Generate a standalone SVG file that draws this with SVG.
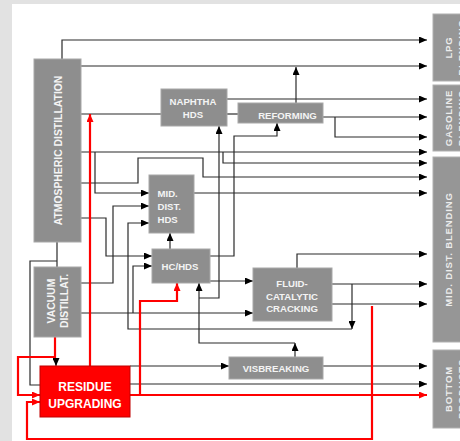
<svg xmlns="http://www.w3.org/2000/svg" width="460" height="441" viewBox="0 0 460 441">
<defs>
<style>
.bg{fill:#ffffff}
.box{fill:#8e8e8e;stroke:#a8a8a8;stroke-width:1}
.blend{fill:#969696;stroke:#b0b0b0;stroke-width:1}
.red{fill:#ff0000;stroke:#c00000;stroke-width:1}
.t{font-family:"Liberation Sans",Arial,sans-serif;font-weight:bold;fill:#f4f4f4;font-size:9.6px}
.tr{font-family:"Liberation Sans",Arial,sans-serif;font-weight:bold;fill:#f4f4f4;font-size:10.4px}
.tb{font-family:"Liberation Sans",Arial,sans-serif;font-weight:bold;fill:#ececec;font-size:9.6px;letter-spacing:0.8px}
.tw{font-family:"Liberation Sans",Arial,sans-serif;font-weight:bold;fill:#ffffff;font-size:12px}
.c{fill:none;stroke:#2a2a2a;stroke-width:1.2}
.cr{fill:none;stroke:#ff0000;stroke-width:2.2}
</style>
<marker id="a" markerUnits="userSpaceOnUse" markerWidth="9" markerHeight="7" refX="8" refY="3.5" orient="auto"><path d="M0,0 L8,3.5 L0,7 z" fill="#000"/></marker>
<marker id="ar" markerUnits="userSpaceOnUse" markerWidth="9" markerHeight="7" refX="8" refY="3.5" orient="auto"><path d="M0,0 L8,3.5 L0,7 z" fill="#ff0000"/></marker>
</defs>
<rect x="0" y="0" width="460" height="441" fill="#e2e2e2"/>
<rect x="12" y="4" width="448" height="437" class="bg"/>

<g id="connectors">
<path class="c" d="M62,59 V40 H427" marker-end="url(#a)"/>
<path class="c" d="M81,66 H427" marker-end="url(#a)"/>
<path class="c" d="M81,114 H161"/>
<path class="c" d="M296,103 V67" marker-end="url(#a)"/>
<path class="c" d="M227,99 H427" marker-end="url(#a)"/>
<path class="c" d="M227,114 H238"/>
<path class="c" d="M323,117 H427" marker-end="url(#a)"/>
<path class="c" d="M335,117 V137 H427" marker-end="url(#a)"/>
<path class="c" d="M81,152 H427" marker-end="url(#a)"/>
<path class="c" d="M95,152 V193 H149" marker-end="url(#a)"/>
<path class="c" d="M223,152 V163 H427" marker-end="url(#a)"/>
<path class="c" d="M81,183 H138 V158 H203 V177 H427" marker-end="url(#a)"/>
<path class="c" d="M194,193 H427" marker-end="url(#a)"/>
<path class="c" d="M81,218 H106 V256 H152" marker-end="url(#a)"/>
<path class="c" d="M81,283 H113 V206 H149" marker-end="url(#a)"/>
<path class="c" d="M81,313 H253" marker-end="url(#a)"/>
<path class="c" d="M133,313 V266 H152" marker-end="url(#a)"/>
<path class="c" d="M352,284 V329" marker-end="url(#a)"/>
<path class="c" d="M352,329 H128 V223 H149" marker-end="url(#a)"/>
<path class="c" d="M332,284 H427" marker-end="url(#a)"/>
<path class="c" d="M332,304 H427" marker-end="url(#a)"/>
<path class="c" d="M297,268 V254 H427" marker-end="url(#a)"/>
<path class="c" d="M210,281 H253" marker-end="url(#a)"/>
<path class="c" d="M210,256 H234 V136 H277 V123" marker-end="url(#a)"/>
<path class="c" d="M170,249 V233" marker-end="url(#a)"/>
<path class="c" d="M295,357 V343" marker-end="url(#a)"/>
<path class="c" d="M295,343 H199 V283" marker-end="url(#a)"/>
<path class="c" d="M199,298 H219 V126" marker-end="url(#a)"/>
<path class="c" d="M323,366 H427" marker-end="url(#a)"/>
<path class="c" d="M130,366 H229" marker-end="url(#a)"/>
<path class="c" d="M130,384 H427" marker-end="url(#a)"/>
<path class="c" d="M57,242 V267"/>
<path class="c" d="M57,261 H30 V385 H40"/>
<path class="cr" d="M55,337 V359"/>
<path class="c" d="M56,358 V366" marker-end="url(#a)"/>
<path class="cr" d="M55,357 H18 V395 H40" marker-end="url(#ar)"/>
<path class="cr" d="M90,366 V114" marker-end="url(#ar)"/>
<path class="cr" d="M130,395 H427" marker-end="url(#ar)"/>
<path class="cr" d="M140,395 V301 H177 V283" marker-end="url(#ar)"/>
<path class="cr" d="M372,306 V439 H27 V402 H40" marker-end="url(#ar)"/>
</g>

<g id="atm">
<rect class="box" x="34" y="59" width="47" height="183"/>
<text class="tr" text-anchor="middle" transform="translate(62,150.5) rotate(-90)">ATMOSPHERIC DISTILLATION</text>
</g>
<g id="vacuum">
<rect class="box" x="34" y="267" width="47" height="70"/>
<text class="tr" text-anchor="middle" transform="translate(55,301) rotate(-90)">VACUUM</text>
<text class="tr" text-anchor="middle" transform="translate(68,301) rotate(-90)">DISTILLAT.</text>
</g>
<g id="residue">
<rect class="red" x="40" y="366" width="90" height="51"/>
<text class="tw" text-anchor="middle" x="85" y="391">RESIDUE</text>
<text class="tw" text-anchor="middle" x="85" y="408">UPGRADING</text>
</g>
<g id="naphtha">
<rect class="box" x="161" y="89" width="66" height="37"/>
<text class="t" text-anchor="middle" x="193" y="105">NAPHTHA</text>
<text class="t" text-anchor="middle" x="193" y="118">HDS</text>
</g>
<g id="reforming">
<rect class="box" x="238" y="103" width="85" height="20"/>
<text class="t" text-anchor="middle" x="287.5" y="119">REFORMING</text>
</g>
<g id="middist">
<rect class="box" x="149" y="175" width="45" height="58"/>
<text class="t" x="157.5" y="197">MID.</text>
<text class="t" x="157.5" y="210">DIST.</text>
<text class="t" x="157.5" y="223">HDS</text>
</g>
<g id="hchds">
<rect class="box" x="152" y="249" width="58" height="34"/>
<text class="t" text-anchor="middle" x="180" y="270">HC/HDS</text>
</g>
<g id="fcc">
<rect class="box" x="253" y="268" width="79" height="53"/>
<text class="t" text-anchor="middle" x="292" y="287">FLUID-</text>
<text class="t" text-anchor="middle" x="292" y="299.5">CATALYTIC</text>
<text class="t" text-anchor="middle" x="292" y="312">CRACKING</text>
</g>
<g id="visbreaking">
<rect class="box" x="229" y="357" width="94" height="22"/>
<text class="t" text-anchor="middle" x="276" y="371.5">VISBREAKING</text>
</g>
<g id="lpg">
<rect class="blend" x="433" y="14" width="40" height="67"/>
<text class="tb" text-anchor="middle" transform="translate(452,47.5) rotate(-90)">LPG</text>
<text class="tb" text-anchor="middle" transform="translate(465,47.5) rotate(-90)">BLENDING</text>
</g>
<g id="gasoline">
<rect class="blend" x="433" y="85" width="40" height="66"/>
<text class="tb" text-anchor="middle" transform="translate(452,118) rotate(-90)">GASOLINE</text>
<text class="tb" text-anchor="middle" transform="translate(465,118) rotate(-90)">BLENDING</text>
</g>
<g id="midblend">
<rect class="blend" x="433" y="157" width="40" height="185"/>
<text class="tb" text-anchor="middle" transform="translate(452,249.5) rotate(-90)">MID. DIST. BLENDING</text>
</g>
<g id="bottom">
<rect class="blend" x="433" y="350" width="40" height="78"/>
<text class="tb" text-anchor="middle" transform="translate(452,389) rotate(-90)">BOTTOM</text>
<text class="tb" text-anchor="middle" transform="translate(465,389) rotate(-90)">PRODUCTS</text>
</g>
</svg>
